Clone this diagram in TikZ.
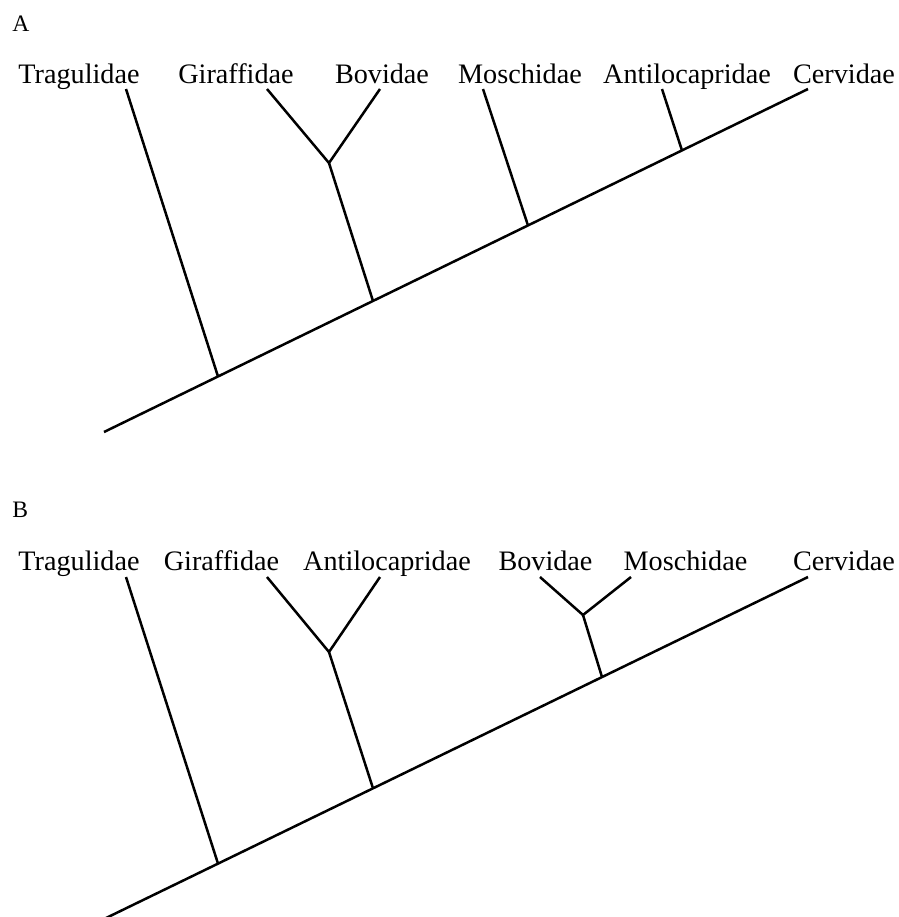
\documentclass[tikz,border=0pt]{standalone}
\usepackage{fontspec}
\setmainfont{Liberation Serif}
\usetikzlibrary{positioning}

\tikzset{
	taxon/.style={anchor=base, inner sep=0pt, font=\fontsize{14.1}{17}\selectfont},
	panel/.style={anchor=base west, inner sep=0pt, font=\fontsize{11.8}{14}\selectfont},
	branch/.style={line width=1.25pt}
}

\begin{document}
\begin{tikzpicture}[x=0.5pt,y=-0.5pt]
	\useasboundingbox (0,0) rectangle (899,917);
	
	%Tree A
	\node[panel] (labA) at (12,31) {A};
	\node[taxon] (aTrag) at (79,83) {Tragulidae};
	\node[taxon] (aGiraf) at (236,83) {Giraffidae};
	\node[taxon] (aBovid) at (382,83) {Bovidae};
	\node[taxon] (aMosch) at (520,83) {Moschidae};
	\node[taxon] (aAntilo) at (687,83) {Antilocapridae};
	\node[taxon] (aCerv) at (844,83) {Cervidae};
	%tips and branch points
	\coordinate (aRoot) at (104,432);
	\coordinate (aTop) at (808,89);
	\coordinate (aTragTip) at (126,89);
	\coordinate (aTragNd) at (218,376.5);
	\coordinate (aGirafTip) at (267,89);
	\coordinate (aBovidTip) at (380,89);
	\coordinate (aGBFork) at (329,163);
	\coordinate (aGBNd) at (373,301);
	\coordinate (aMoschTip) at (483,89);
	\coordinate (aMoschNd) at (528,225.5);
	\coordinate (aAntiloTip) at (662,89);
	\coordinate (aAntiloNd) at (682,150.5);
	%branches
	\draw[branch] (aRoot)--(aTop);
	\draw[branch] (aTragTip)--(aTragNd);
	\draw[branch] (aGirafTip)--(aGBFork)--(aBovidTip);
	\draw[branch] (aGBFork)--(aGBNd);
	\draw[branch] (aMoschTip)--(aMoschNd);
	\draw[branch] (aAntiloTip)--(aAntiloNd);
	
	%Tree B
	\node[panel] (labB) at (12,517) {B};
	\node[taxon] (bTrag) at (79,570) {Tragulidae};
	\node[taxon] (bGiraf) at (221.5,570) {Giraffidae};
	\node[taxon] (bAntilo) at (387,570) {Antilocapridae};
	\node[taxon] (bBovid) at (545.5,570) {Bovidae};
	\node[taxon] (bMosch) at (685.5,570) {Moschidae};
	\node[taxon] (bCerv) at (844,570) {Cervidae};
	%tips and branch points
	\coordinate (bRoot) at (104,919);
	\coordinate (bTop) at (808,577);
	\coordinate (bTragTip) at (126,577);
	\coordinate (bTragNd) at (218,863.6);
	\coordinate (bGirafTip) at (267,577);
	\coordinate (bAntiloTip) at (380,577);
	\coordinate (bGAFork) at (329,652);
	\coordinate (bGANd) at (373,788.3);
	\coordinate (bBovidTip) at (540,577);
	\coordinate (bMoschTip) at (631,577);
	\coordinate (bBMFork) at (583,615);
	\coordinate (bBMNd) at (602,677);
	%branches
	\draw[branch] (bRoot)--(bTop);
	\draw[branch] (bTragTip)--(bTragNd);
	\draw[branch] (bGirafTip)--(bGAFork)--(bAntiloTip);
	\draw[branch] (bGAFork)--(bGANd);
	\draw[branch] (bBovidTip)--(bBMFork)--(bMoschTip);
	\draw[branch] (bBMFork)--(bBMNd);
	
\end{tikzpicture}
\end{document}
